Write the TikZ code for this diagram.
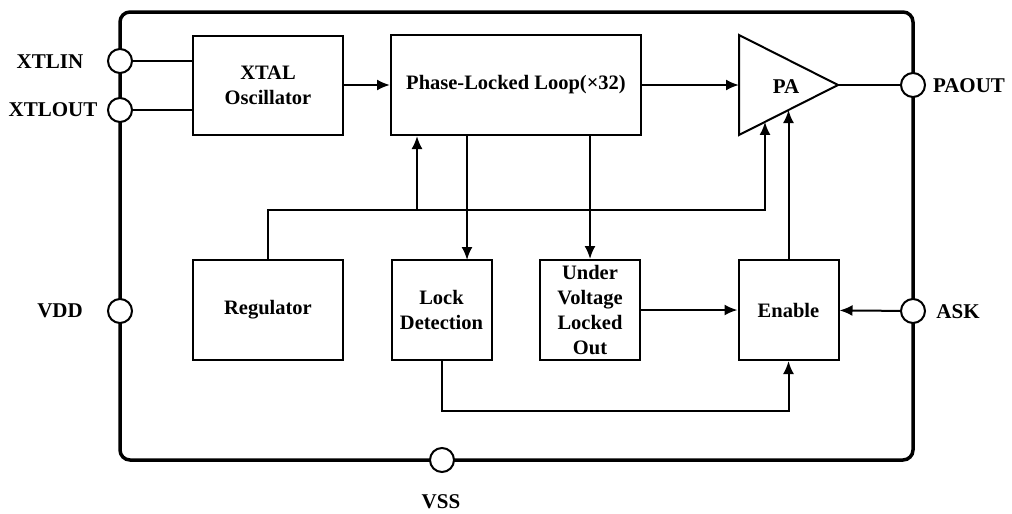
\documentclass[tikz,border=0pt]{standalone}
\usepackage{fontspec}
\setmainfont{Liberation Serif}
\usetikzlibrary{arrows.meta}
\newcommand{\drawPad}[4]{
  \node[pad] (#1) at (#2) {};
  \node[padlabel] (#1Label) at (#3) {#4};
}

\begin{document}
\begin{tikzpicture}[x=1pt, y=-1pt, line width=2pt,
    >={Latex[length=13pt,width=11pt]},
    block/.style={draw, rectangle, inner sep=0pt, align=center,
      font=\fontsize{20.5}{25}\selectfont\bfseries},
    pad/.style={draw, circle, fill=white, inner sep=0pt, minimum size=24pt},
    padlabel/.style={font=\fontsize{21}{25}\selectfont\bfseries}]
  \useasboundingbox (0,0) rectangle (1012,514);
  % Package outline
  \draw[line width=3.5pt, rounded corners=10pt] (120,12) rectangle (913,460);
  % Pins
  \drawPad{xtlin}{120,61}{50,62}{XTLIN}
  \drawPad{xtlout}{120,110}{53,110}{XTLOUT}
  \drawPad{vdd}{120,311}{60,311}{VDD}
  \drawPad{vss}{442,460}{441,502}{VSS}
  \drawPad{paout}{913,85}{969,86}{PAOUT}
  \drawPad{ask}{913,311}{958,312}{ASK}
  % Blocks
  \node[block, minimum width=150pt, minimum height=99pt] (xtal) at (268,85) {XTAL\\Oscillator};
  \node[block, minimum width=250pt, minimum height=100pt] (pll) at (516,85) {Phase-Locked Loop(×32)};
  \node[block, minimum width=150pt, minimum height=100pt] (reg) at (268,310) {Regulator};
  \node[block, minimum width=100pt, minimum height=100pt] (lock) at (441.5,310) {Lock\\Detection};
  \node[block, minimum width=100pt, minimum height=100pt] (uvlo) at (590,310) {Under\\Voltage\\Locked\\Out};
  \node[block, minimum width=100pt, minimum height=100pt] (enable) at (788.5,310) {Enable};
  % Power amplifier
  \draw (739,35) -- (838,85) -- (739,135) -- cycle;
  \node[padlabel] (pa) at (786,87) {PA};
  \coordinate (paIn) at (739,85);
  \coordinate (paTip) at (838,85);
  \coordinate (paReg) at (765,121.9);
  \coordinate (paEn) at (788.5,110);
  \coordinate (bus) at (267.5,210);
  \coordinate (lockIn) at (467,260);
  % Connections
  \draw (xtlin) -- (xtlin -| xtal.west);
  \draw (xtlout) -- (xtlout -| xtal.west);
  \draw[->] (xtal) -- (pll);
  \draw[->] (pll) -- (paIn);
  \draw (paTip) -- (paout);
  \draw[->] (reg.north -| bus) -- (bus) -| (paReg);
  \draw[->] (bus -| 417,0) -- (pll.south -| 417,0);
  \draw[->] (lockIn |- pll.south) -- (lockIn);
  \draw[->] (uvlo.north |- pll.south) -- (uvlo.north);
  \draw[->] (uvlo) -- (enable);
  \draw[->] (ask) -- (enable);
  \draw[->] (enable.north) -- (paEn);
  \draw[->] (lock.south) -- ++(0,50) -| (enable.south);
\end{tikzpicture}
\end{document}
